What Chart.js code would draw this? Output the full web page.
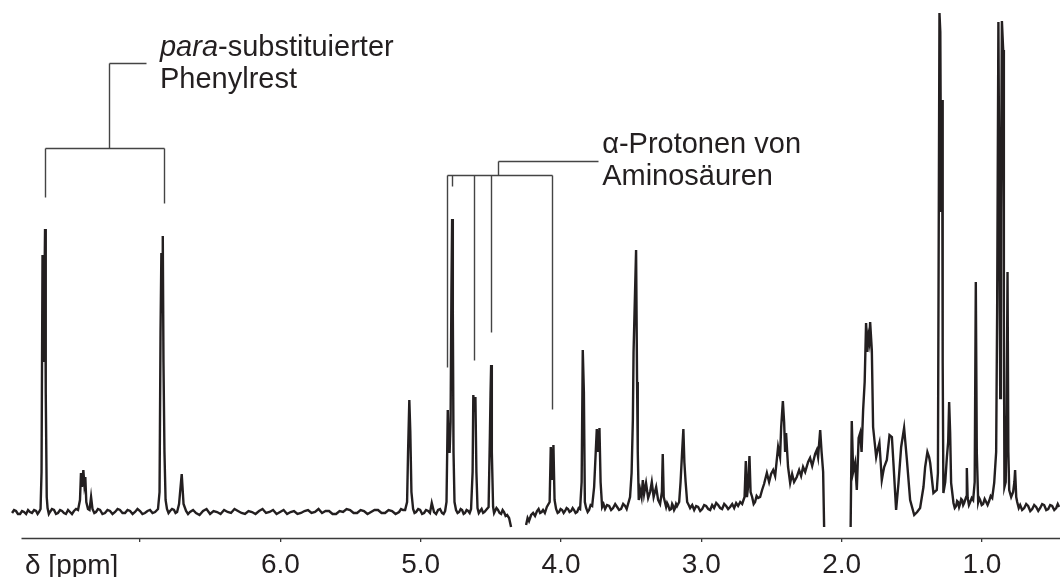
<!DOCTYPE html>
<html>
<head>
<meta charset="utf-8">
<script src="https://cdn.jsdelivr.net/npm/chart.js@4"></script>
<style>
  body { margin: 0; background: #fff; }
  canvas { display: block; }
</style>
</head>
<body>
<canvas id="nmr" width="1060" height="577"></canvas>
<script>
// 1H-NMR trace: [shift in ppm, intensity above baseline]
const downfield = [
    [7.912,-1],[7.898,2],[7.884,1],[7.870,-2],[7.855,-2],[7.841,1],[7.827,0],[7.812,-2],[7.798,2],[7.784,0],[7.770,-1],[7.755,2],[7.741,1],[7.730,-2],[7.720,0],
    [7.709,3],[7.702,40],[7.695,257],[7.688,150],[7.683,200],[7.677,283],[7.672,120],[7.665,15],[7.659,4],
    [7.650,-2],[7.642,0],[7.628,3],[7.613,2],[7.599,-2],[7.585,-1],[7.570,2],[7.556,1],[7.542,-1],[7.528,-2],[7.513,2],[7.499,0],[7.485,-2],[7.471,1],[7.456,3],[7.442,2],
    [7.428,12],[7.421,39],[7.414,25],[7.404,42],[7.397,28],[7.390,35],[7.383,10],[7.371,3],[7.360,2],[7.349,15],[7.339,3],
    [7.326,-1],[7.314,0],[7.300,3],[7.285,2],[7.268,-2],[7.250,-1],[7.232,2],[7.214,1],[7.196,-2],[7.178,0],[7.160,3],[7.143,2],[7.125,-1],[7.107,-1],[7.089,2],
    [7.071,1],[7.053,-2],[7.036,0],[7.018,3],[7.000,1],[6.983,-2],[6.965,-1],[6.947,1],[6.929,2],[6.911,-1],[6.893,0],
    [6.872,3],[6.861,20],[6.854,180],[6.848,259],[6.843,200],[6.838,276],[6.833,150],[6.826,60],[6.818,12],[6.808,3],
    [6.797,-1],[6.786,1],[6.772,3],[6.758,2],[6.747,-1],[6.736,0],[6.722,8],[6.703,38],[6.690,8],[6.672,1],[6.658,-2],[6.644,0],
    [6.622,2],[6.601,-1],[6.576,-3],[6.551,1],[6.526,3],[6.501,-2],[6.476,1],[6.451,0],[6.426,-2],[6.401,2],[6.376,0],
    [6.352,-1],[6.327,3],[6.302,1],[6.277,-1],[6.252,-2],[6.227,1],[6.202,0],[6.177,-2],[6.152,1],[6.127,3],[6.102,-1],
    [6.077,0],[6.052,2],[6.027,-2],[6.002,0],[5.977,2],[5.952,-2],[5.927,0],[5.903,1],[5.878,-2],[5.853,-1],[5.828,1],
    [5.803,2],[5.778,-1],[5.753,0],[5.728,3],[5.703,-1],[5.678,1],[5.653,1],[5.628,-2],[5.603,-2],[5.578,1],[5.553,0],
    [5.528,3],[5.503,2],[5.478,-1],[5.453,-1],[5.428,2],[5.404,1],[5.379,-2],[5.354,0],[5.329,2],[5.304,2],[5.279,-1],
    [5.254,-1],[5.229,2],[5.204,1],[5.179,-2],[5.154,0],[5.140,3],[5.126,2],
    [5.111,2],[5.097,10],[5.090,60],[5.081,112],[5.074,80],[5.066,20],[5.054,3],
    [5.044,-1],[5.033,0],[5.018,3],[5.004,2],[4.990,-2],[4.976,-1],[4.962,2],[4.947,1],[4.934,-1],[4.921,9],[4.905,0],
    [4.890,-2],[4.876,2],[4.862,3],[4.848,-1],[4.837,-2],[4.826,1],
    [4.816,10],[4.807,102],[4.801,70],[4.794,59],[4.787,90],[4.781,220],[4.776,293],[4.771,200],[4.766,60],[4.759,10],
    [4.748,2],[4.737,-1],[4.726,0],[4.715,3],[4.705,2],[4.694,-2],[4.684,-1],[4.673,2],[4.662,1],[4.651,-1],[4.641,3],
    [4.630,40],[4.625,117],[4.617,100],[4.610,115],[4.603,40],[4.595,4],
    [4.586,-1],[4.577,1],[4.566,3],[4.555,-1],[4.545,0],[4.534,2],[4.516,5],[4.507,75],[4.502,120],[4.498,147],[4.493,60],[4.484,5],
    [4.477,-1],[4.470,1],[4.460,4],[4.449,2],[4.438,-1],[4.427,-2],[4.416,2],[4.406,0],[4.395,-4],[4.384,-3],[4.370,-6],[4.356,-15]
];

const midfield = [
    [4.249,-13],[4.238,-6],[4.228,-9],[4.213,-3],[4.199,-1],[4.185,-4],[4.171,1],[4.160,3],[4.149,-1],[4.138,0],[4.128,2],[4.115,-1],[4.101,5],[4.081,10],
    [4.073,65],[4.064,32],[4.054,67],[4.046,12],[4.035,3],
    [4.024,-1],[4.014,0],[4.003,3],[3.992,2],[3.981,-1],[3.971,1],[3.960,4],[3.950,3],[3.939,0],[3.928,1],[3.917,4],[3.907,2],[3.896,-1],[3.885,0],[3.874,4],[3.864,3],
    [3.853,30],[3.845,162],[3.837,120],[3.830,10],[3.821,4],
    [3.810,0],[3.800,2],[3.789,7],[3.778,6],[3.764,25],[3.745,83],[3.736,60],[3.726,84],[3.718,30],[3.707,5],
    [3.697,8],[3.686,3],[3.672,7],[3.657,6],[3.643,2],[3.629,4],[3.614,8],[3.600,5],[3.586,2],[3.572,3],[3.557,8],[3.543,6],[3.532,3],[3.522,8],
    [3.508,15],[3.497,39],[3.488,92],[3.483,160],[3.476,200],[3.465,262],[3.458,130],[3.453,60],[3.446,12],
    [3.436,22],[3.426,15],[3.417,32],[3.408,18],[3.394,29],[3.379,14],[3.365,20],[3.353,30],[3.340,15],
    [3.322,25],[3.308,12],[3.294,8],[3.281,20],[3.275,58],[3.268,15],[3.251,5],
    [3.244,9],[3.237,7],[3.226,2],[3.215,3],[3.208,8],[3.201,6],[3.194,2],[3.187,4],[3.180,8],[3.173,6],[3.158,10],
    [3.148,30],[3.137,60],[3.128,83],[3.121,50],[3.112,30],[3.101,10],
    [3.090,7],[3.080,4],[3.065,7],[3.051,2],[3.037,6],[3.023,5],[3.008,1],[2.994,3],[2.980,7],[2.966,6],[2.951,3],[2.937,2],
    [2.923,7],[2.909,4],[2.894,9],[2.880,7],[2.866,4],[2.852,3],[2.837,8],[2.823,6],[2.809,3],[2.795,5],[2.780,8],[2.766,4],
    [2.752,9],[2.738,6],[2.723,10],[2.709,8],
    [2.692,15],[2.683,51],[2.675,15],[2.667,25],[2.657,56],[2.649,20],[2.638,15],[2.627,8],[2.617,10],[2.606,16],[2.595,14],
    [2.581,15],[2.567,22],[2.553,28],[2.533,39],[2.517,30],[2.503,38],[2.488,42],[2.474,36],[2.453,65],[2.439,55],
    [2.431,85],[2.419,111],[2.410,90],[2.403,60],[2.396,79],[2.382,45],[2.367,29],[2.353,38],[2.339,30],[2.320,35],
    [2.303,42],[2.289,36],[2.275,45],[2.260,40],[2.239,50],[2.225,54],[2.210,46],[2.189,58],[2.177,62],[2.168,55],
    [2.153,82],[2.143,60],[2.132,40],[2.125,-15]
];

const upfield = [
    [1.936,-15],[1.928,91],[1.918,40],[1.904,49],[1.892,22],[1.879,74],[1.868,79],[1.858,60],[1.847,102],[1.836,130],
    [1.826,189],[1.817,160],[1.809,175],[1.803,170],[1.797,190],[1.785,162],[1.776,85],[1.765,70],[1.754,55],[1.744,62],
    [1.731,69],[1.722,50],[1.714,32],[1.704,40],[1.697,45],[1.678,52],[1.659,77],[1.642,75],[1.631,49],[1.612,2],
    [1.595,29],[1.576,65],[1.565,75],[1.555,84],[1.535,52],[1.512,12],[1.483,-3],[1.462,0],[1.441,4],[1.417,25],
    [1.405,45],[1.389,60],[1.377,55],[1.369,49],[1.346,19],[1.322,22],[1.314,39],[1.309,250],[1.303,499],[1.297,480],
    [1.291,300],[1.284,412],[1.280,150],[1.275,19],[1.262,30],[1.250,55],[1.241,70],[1.234,110],[1.227,80],[1.220,29],
    [1.203,9],[1.194,4],[1.184,6],[1.177,11],[1.170,10],[1.163,5],[1.156,8],[1.148,13],[1.141,12],[1.134,7],[1.127,9],
    [1.113,15],[1.108,44],[1.102,14],[1.093,7],[1.084,10],[1.073,14],[1.063,12],
    [1.052,30],[1.044,230],[1.037,60],[1.027,10],[1.020,14],[1.013,12],[1.002,7],[0.992,8],[0.981,13],[0.970,10],[0.960,7],
    [0.949,11],[0.938,16],[0.927,14],
    [0.913,29],[0.899,60],[0.892,200],[0.883,490],[0.876,300],[0.870,114],[0.865,300],[0.858,491],[0.849,462],[0.844,200],
    [0.840,25],[0.831,30],[0.824,100],[0.818,240],[0.812,60],[0.806,22],[0.792,15],[0.778,20],[0.769,30],[0.764,42],
    [0.756,15],[0.749,10],[0.738,4],[0.728,7],[0.714,2],[0.699,4],[0.685,8],[0.671,6],[0.656,1],[0.642,3],[0.628,7],
    [0.614,5],[0.599,1],[0.585,4],[0.571,8],[0.557,7],[0.542,2],[0.528,3],[0.514,7],[0.500,6],[0.485,2],[0.471,4],
    [0.460,8],[0.450,5]
];

const tickPpm = [7, 6, 5, 4, 3, 2, 1];

const FONT = '"Liberation Sans", Arial, sans-serif';
const INK = '#231f20';

// solvent regions were cut out of the trace, so break the line there
const toPoints = arr => arr.map(p => ({ x: p[0], y: p[1] }));
const points = [
    ...toPoints(downfield), { x: 4.30, y: null },
    ...toPoints(midfield), { x: 2.03, y: null },
    ...toPoints(upfield)
];

const annotations = {
    id: 'annotations',
    afterDraw(chart) {
        const ctx = chart.ctx;
        const xs = chart.scales.x, ys = chart.scales.y;
        const X = v => Math.round(xs.getPixelForValue(v)) + 0.5;
        const Y = v => Math.round(ys.getPixelForValue(v)) + 0.5;
        const line = (x1, y1, x2, y2) => {
            ctx.beginPath();
            ctx.moveTo(X(x1), Y(y1));
            ctx.lineTo(X(x2), Y(y2));
            ctx.stroke();
        };

        ctx.save();
        // axis line
        ctx.strokeStyle = '#3a3a3a';
        ctx.lineWidth = 1.5;
        ctx.beginPath();
        ctx.moveTo(X(7.85), xs.top + 0.5);
        ctx.lineTo(chart.width, xs.top + 0.5);
        ctx.stroke();

        // para-substituted phenyl bracket
        ctx.strokeStyle = '#444';
        ctx.lineWidth = 1.4;
        line(7.677, 315, 7.677, 364);
        line(6.826, 309, 6.826, 364);
        line(7.677, 364, 6.826, 364);
        line(7.221, 364, 7.221, 449);
        line(7.221, 449, 6.957, 449);

        // alpha protons bracket
        line(4.812, 337, 4.064, 337);
        [[4.812, 145], [4.774, 326], [4.620, 152], [4.498, 180], [4.064, 103]].forEach(l => {
            line(l[0], 337, l[0], l[1]);
        });
        line(4.449, 337, 4.449, 351);
        line(4.449, 351, 3.734, 351);

        // texts
        ctx.fillStyle = INK;
        ctx.textBaseline = 'alphabetic';
        ctx.textAlign = 'left';
        ctx.font = 'italic 29px ' + FONT;
        const px = xs.getPixelForValue(6.858);
        ctx.fillText('para', px, ys.getPixelForValue(456));
        const w = ctx.measureText('para').width;
        ctx.font = '29px ' + FONT;
        ctx.fillText('-substituierter', px + w, ys.getPixelForValue(456));
        ctx.fillText('Phenylrest', px, ys.getPixelForValue(424));

        const ax = xs.getPixelForValue(3.707);
        ctx.fillText('\u03b1-Protonen von', ax, ys.getPixelForValue(359));
        ctx.fillText('Aminos\u00e4uren', ax, ys.getPixelForValue(327));

        ctx.font = '28px ' + FONT;
        ctx.fillText('\u03b4 [ppm]', 25, 574);
        ctx.restore();
    }
};

const config = {
    type: 'line',
    data: {
        datasets: [{
            label: '1H NMR',
            data: points,
            borderColor: INK,
            borderWidth: 2.4,
            pointRadius: 0,
            tension: 0,
            spanGaps: false,
            fill: false
        }]
    },
    options: {
        responsive: false,
        animation: false,
        layout: { padding: 0 },
        plugins: {
            legend: { display: false },
            tooltip: { enabled: false }
        },
        scales: {
            x: {
                type: 'linear',
                reverse: true,
                min: 0.444,
                max: 7.998,
                afterBuildTicks: s => { s.ticks = tickPpm.map(v => ({ value: v })); },
                afterFit: s => { s.height = 39; },
                border: { display: false },
                grid: {
                    drawOnChartArea: false,
                    drawTicks: true,
                    tickLength: 4,
                    color: '#3a3a3a',
                    lineWidth: 1.3
                },
                ticks: {
                    autoSkip: false,
                    maxRotation: 0,
                    padding: 6,
                    color: INK,
                    font: { family: FONT, size: 28 },
                    callback: v => v === 7 ? '' : v.toFixed(1)
                }
            },
            y: {
                display: false,
                min: -26,
                max: 512
            }
        }
    },
    plugins: [annotations]
};

const context = document.getElementById('nmr').getContext('2d');
const nmrChart = new Chart(context, config);
</script>
</body>
</html>
